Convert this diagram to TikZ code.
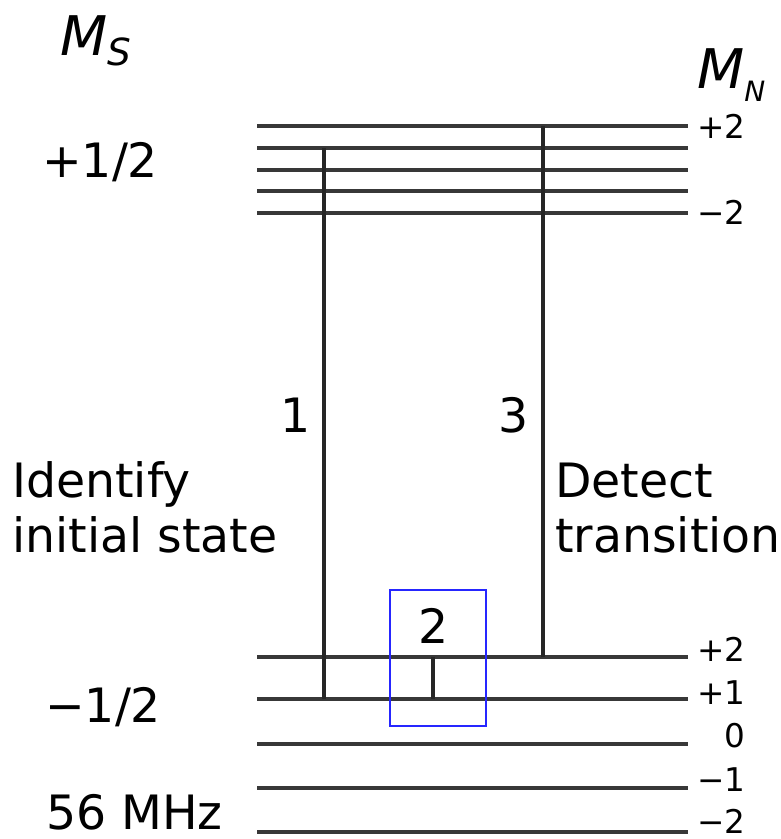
\documentclass[tikz,border=0pt]{standalone}
\usepackage{fontspec}
\setmainfont{DejaVu Sans}
\begin{document}
\begin{tikzpicture}[x=0.75pt, y=-0.75pt,
	every node/.style={inner sep=0pt, font=\fontsize{35.5}{41}\selectfont},
	level/.style={line width=3.2pt, black!78},
	trans/.style={line width=2.5pt, black!85},
	mlabel/.style={anchor=base east, font=\fontsize{24.5}{28}\selectfont},
	spinlabel/.style={anchor=base west, font=\fontsize{41}{46}\selectfont\itshape}]
	\useasboundingbox (0,0) rectangle (781,839);
	% nuclear sublevels, upper and lower electron spin manifold
	\foreach \y/\n in {126/p2,148/p1,170/z,191/m1,213/m2} {
		\coordinate (u\n) at (257,\y);
		\draw[level] (u\n) -- ++(431,0);
	}
	\foreach \y/\n in {657/p2,699/p1,744/z,788/m1,832/m2} {
		\coordinate (l\n) at (257,\y);
		\draw[level] (l\n) -- ++(431,0);
	}
	\coordinate (t1) at (324,0);
	\coordinate (t2) at (433,0);
	\coordinate (t3) at (543,0);
	\draw[trans] (up1 -| t1) -- (lp1 -| t1);
	\draw[trans] (lp2 -| t2) -- (lp1 -| t2);
	\draw[trans] (up2 -| t3) -- (lp2 -| t3);
	\node[draw=blue!85, line width=1.4pt, minimum width=96*0.75pt, minimum height=136*0.75pt] (box) at (438,658) {};
	\node[anchor=base] (n2) at (434,643) {2};
	\node[anchor=base] (n1) at (296,432) {1};
	\node[anchor=base] (n3) at (514,432) {3};
	\node[anchor=base west, align=left] (ident) at (12,552) {Identify\\initial state};
	\node[anchor=base west, align=left] (detect) at (555,552) {Detect\\transition};
	% electron spin labels
	\node[spinlabel] (ms) at (60,55) {M\raisebox{-8pt}{\fontsize{28}{30}\selectfont S}};
	\node[spinlabel] (mn) at (697,88) {M\raisebox{-10pt}{\fontsize{21}{24}\selectfont N}};
	\node[anchor=base west] (up) at (42,177) {+1/2};
	\node[anchor=base west] (dn) at (45,722) {−1/2};
	\node[anchor=base west] (freq) at (46,829) {56 MHz};
	% nuclear spin labels
	\node[mlabel] at (746,138) {+2};
	\node[mlabel] at (746,224) {−2};
	\node[mlabel] at (746,661) {+2};
	\node[mlabel] at (746,704) {+1};
	\node[mlabel] at (746,747) {0};
	\node[mlabel] at (746,791) {−1};
	\node[mlabel] at (746,833) {−2};
\end{tikzpicture}
\end{document}
